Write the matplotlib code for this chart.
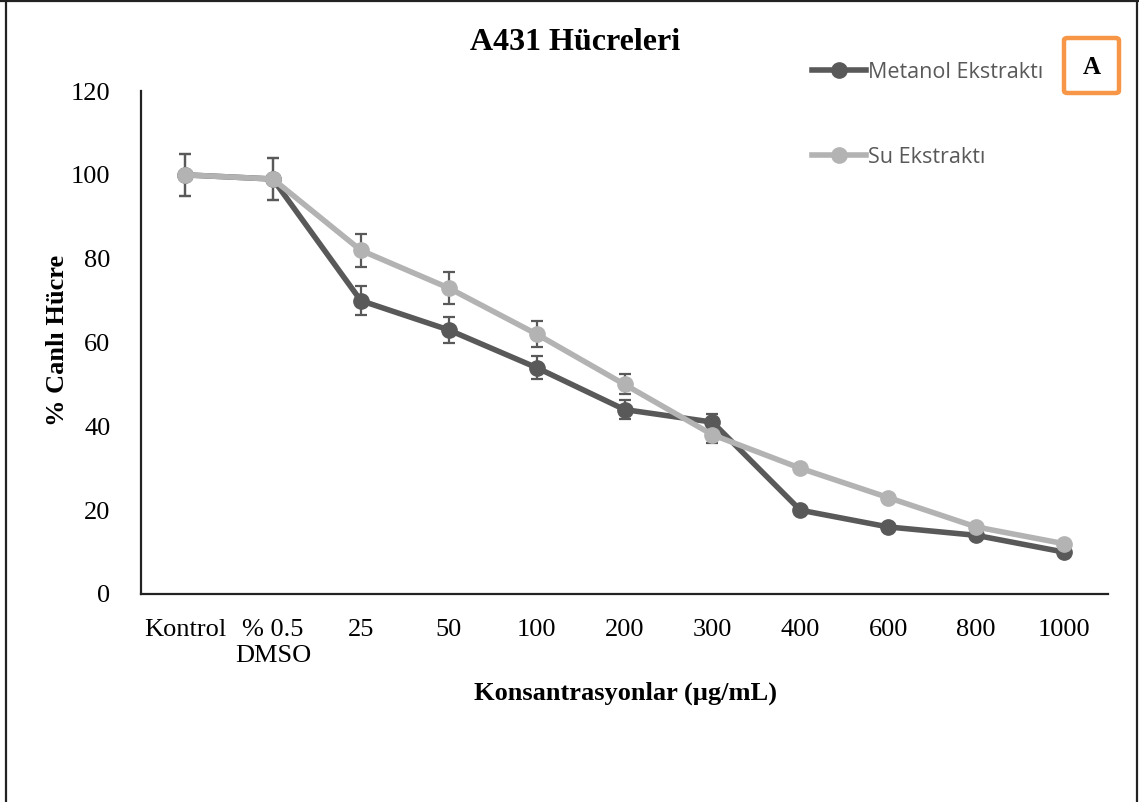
import matplotlib
matplotlib.use("Agg")
import matplotlib.pyplot as plt
from matplotlib.lines import Line2D
from matplotlib.patches import FancyBboxPatch

categories = ["Kontrol", "% 0.5\nDMSO", "25", "50", "100", "200", "300", "400", "600", "800", "1000"]
metanol = [100, 99, 70, 63, 54, 44, 41, 20, 16, 14, 10]
metanol_err = [5, 5, 3.5, 3.2, 2.7, 2.2, 2.0, 0, 0, 0, 0]
su = [100, 99, 82, 73, 62, 50, 38, 30, 23, 16, 12]
su_err = [5, 5, 4.0, 3.7, 3.1, 2.4, 1.9, 1.0, 0, 0, 0]
yticks = [0, 20, 40, 60, 80, 100, 120]

W, H = 1139, 802
fig = plt.figure(figsize=(W / 100, H / 100), dpi=100)
ax = fig.add_axes([141 / W, 1 - 594 / H, (1108 - 141) / W, (594 - 91) / H])

serif = "Liberation Serif"
dark = "#595959"
light = "#b3b3b3"
x = list(range(len(categories)))

ax.errorbar(x, metanol, yerr=metanol_err, fmt="none", ecolor=dark, elinewidth=1.6,
            capsize=4.5, capthick=1.6, zorder=1)
ax.errorbar(x, su, yerr=su_err, fmt="none", ecolor=dark, elinewidth=1.6,
            capsize=4.5, capthick=1.6, zorder=1)
ax.plot(x, metanol, color=dark, lw=4, marker="o", ms=11, zorder=2, label="Metanol Ekstraktı")
ax.plot(x, su, color=light, lw=4, marker="o", ms=11, zorder=3, label="Su Ekstraktı")

ax.set_xlim(-0.5, len(categories) - 0.5)
ax.set_ylim(0, 120)
ax.set_yticks(yticks)
ax.set_yticklabels([str(v) for v in yticks], fontfamily=serif, fontsize=19)
ax.set_xticks(x)
ax.set_xticklabels(categories, fontfamily=serif, fontsize=19, linespacing=1.25)
ax.tick_params(axis="both", length=0)
ax.tick_params(axis="y", pad=22)
ax.tick_params(axis="x", pad=18)
for s in ["top", "right"]:
    ax.spines[s].set_visible(False)
for s in ["left", "bottom"]:
    ax.spines[s].set_color("#222222")
    ax.spines[s].set_linewidth(1.6)

fig.text(575 / W, 1 - 43 / H, "A431 Hücreleri", fontfamily=serif, fontweight="bold",
         fontsize=23, ha="center", va="center")
fig.text(625 / W, 1 - 693 / H, "Konsantrasyonlar (µg/mL)", fontfamily=serif, fontweight="bold",
         fontsize=19, ha="center", va="center")
fig.text(58 / W, 1 - 340 / H, "% Canlı Hücre", fontfamily=serif, fontweight="bold",
         fontsize=19, ha="center", va="center", rotation=90)

leg = fig.legend(loc="upper left", bbox_to_anchor=(812 / W, 1 - 62 / H), frameon=False,
                 prop={"family": "Open Sans", "size": 15.5}, handlelength=2.5,
                 handletextpad=0.1, labelspacing=2.95, borderpad=0, borderaxespad=0)
for t in leg.get_texts():
    t.set_color(dark)

box = FancyBboxPatch((1064 / W, 1 - 93 / H), 55 / W, 55 / H, boxstyle="round,pad=0,rounding_size=0.003",
                     transform=fig.transFigure, facecolor="white", edgecolor="#f79646", lw=3.2)
fig.add_artist(box)
fig.text(1091.5 / W, 1 - 67 / H, "A", fontfamily=serif, fontweight="bold", fontsize=18,
         ha="center", va="center")

# outer frame (left, top, right)
fig.add_artist(Line2D([6 / W, 6 / W], [0, 1], transform=fig.transFigure, color="#222222", lw=1.6))
fig.add_artist(Line2D([0, 1], [1 - 1 / H, 1 - 1 / H], transform=fig.transFigure, color="#222222", lw=1.6))
fig.add_artist(Line2D([1137 / W, 1137 / W], [0, 1], transform=fig.transFigure, color="#222222", lw=1.6))

fig.savefig("out.png", dpi=100, facecolor="white")
